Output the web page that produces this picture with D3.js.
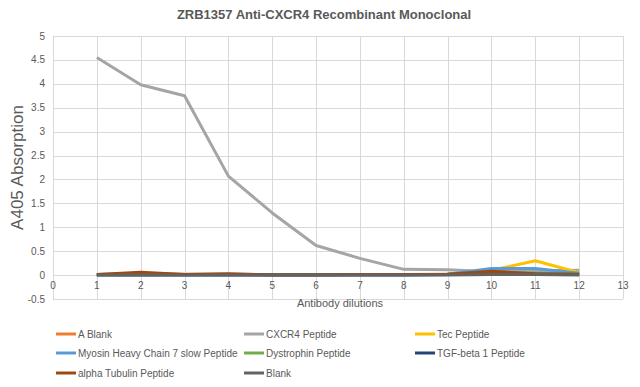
<!DOCTYPE html>
<html>
<head>
<meta charset="utf-8">
<script src="https://cdn.jsdelivr.net/npm/d3@7"></script>
<style>
  body { margin: 0; background: #fff; }
  svg text { font-family: "Liberation Sans Narrow", "Liberation Sans", Arial, sans-serif; }
</style>
</head>
<body>
<div id="chart"></div>
<script>
var dilutions = [1, 2, 3, 4, 5, 6, 7, 8, 9, 10, 11, 12];
var seriesNames = ["A Blank", "CXCR4 Peptide", "Tec Peptide", "Myosin Heavy Chain 7 slow Peptide",
  "Dystrophin Peptide", "TGF-beta 1 Peptide", "alpha Tubulin Peptide", "Blank"];
var seriesColors = ["#ed7d31", "#a5a5a5", "#ffc000", "#5b9bd5", "#70ad47", "#264478", "#9e480e", "#636363"];
var aBlank      = [0.01, 0.04, 0.02, 0.02, 0.01, 0.01, 0.01, 0.01, 0.02, 0.05, 0.04, 0.02];
var cxcr4       = [4.55, 3.98, 3.75, 2.07, 1.30, 0.62, 0.35, 0.12, 0.11, 0.07, 0.09, 0.10];
var tec         = [0.01, 0.01, 0.01, 0.01, 0.01, 0.01, 0.01, 0.01, 0.02, 0.10, 0.30, 0.05];
var myosin      = [0.01, 0.01, 0.01, 0.01, 0.01, 0.01, 0.01, 0.01, 0.02, 0.14, 0.14, 0.04];
var dystrophin  = [0.01, 0.01, 0.01, 0.01, 0.01, 0.01, 0.01, 0.01, 0.02, 0.06, 0.04, 0.02];
var tgfBeta     = [0.00, 0.00, 0.00, 0.00, 0.00, 0.00, 0.00, 0.00, 0.01, 0.03, 0.02, 0.01];
var tubulin     = [0.01, 0.06, 0.01, 0.03, 0.00, 0.00, 0.01, 0.01, 0.02, 0.08, 0.03, 0.02];
var blank       = [0.00, 0.00, 0.00, 0.00, 0.00, 0.00, 0.00, 0.00, 0.00, 0.01, 0.01, 0.00];
var seriesValues = [aBlank, cxcr4, tec, myosin, dystrophin, tgfBeta, tubulin, blank];
var xTicks = d3.range(0, 14);
var yTicks = [-0.5, 0, 0.5, 1, 1.5, 2, 2.5, 3, 3.5, 4, 4.5, 5];

(function() {
  var W = 640, H = 387;
  var margin = { top: 36, left: 53, right: 17, bottom: 88 };

  var svg = d3.select("#chart").append("svg")
    .attr("width", W).attr("height", H);

  var x = d3.scaleLinear().domain([0, 13]).range([margin.left, W - margin.right]);
  var y = d3.scaleLinear().domain([-0.5, 5]).range([H - margin.bottom, margin.top]);

  // Gridlines
  svg.append("g").selectAll("line.h")
    .data(yTicks).enter().append("line")
    .attr("x1", x(0)).attr("x2", x(13))
    .attr("y1", function(d) { return Math.round(y(d)) + 0.5; })
    .attr("y2", function(d) { return Math.round(y(d)) + 0.5; })
    .attr("stroke", "#d9d9d9").attr("stroke-width", 1);

  svg.append("g").selectAll("line.v")
    .data(xTicks).enter().append("line")
    .attr("x1", function(d) { return Math.round(x(d)) + 0.5; })
    .attr("x2", function(d) { return Math.round(x(d)) + 0.5; })
    .attr("y1", y(5)).attr("y2", y(-0.5))
    .attr("stroke", "#d9d9d9").attr("stroke-width", 1);

  // Y tick labels
  svg.append("g").selectAll("text")
    .data(yTicks).enter().append("text")
    .attr("x", x(0) - 8).attr("y", function(d) { return y(d); })
    .attr("dy", "0.35em").attr("text-anchor", "end")
    .attr("font-size", 10).attr("fill", "#595959")
    .text(function(d) { return d; });

  // X tick labels (axis crosses at 0)
  svg.append("g").selectAll("text")
    .data(xTicks).enter().append("text")
    .attr("x", function(d) { return x(d); }).attr("y", y(0) + 14)
    .attr("text-anchor", "middle")
    .attr("font-size", 10).attr("fill", "#595959")
    .text(function(d) { return d; });

  // Lines
  var line = d3.line()
    .x(function(d, i) { return x(dilutions[i]); })
    .y(function(d) { return y(d); });

  svg.append("g").selectAll("path")
    .data(seriesValues).enter().append("path")
    .attr("d", line)
    .attr("fill", "none")
    .attr("stroke", function(d, i) { return seriesColors[i]; })
    .attr("stroke-width", 3)
    .attr("stroke-linejoin", "round");

  // Titles
  svg.append("text")
    .attr("x", 324).attr("y", 19)
    .attr("text-anchor", "middle").attr("font-size", 13).attr("font-weight", "bold")
    .attr("fill", "#595959")
    .text("ZRB1357  Anti-CXCR4 Recombinant Monoclonal");

  svg.append("text")
    .attr("x", 340).attr("y", 307)
    .attr("text-anchor", "middle").attr("font-size", 11).attr("fill", "#595959")
    .text("Antibody dilutions");

  svg.append("text")
    .attr("transform", "translate(23," + y(2.25) + ") rotate(-90)")
    .attr("text-anchor", "middle").attr("font-size", 17).attr("fill", "#595959")
    .text("A405 Absorption");

  // Legend
  var colX = [56, 244, 415];
  var rowY = [334, 353, 373];
  var items = svg.append("g").selectAll("g")
    .data(seriesNames).enter().append("g")
    .attr("transform", function(d, i) {
      return "translate(" + colX[i % 3] + "," + rowY[Math.floor(i / 3)] + ")";
    });

  items.append("line")
    .attr("x1", 0).attr("x2", 20).attr("y1", 0).attr("y2", 0)
    .attr("stroke", function(d, i) { return seriesColors[i]; })
    .attr("stroke-width", 3);

  items.append("text")
    .attr("x", 22).attr("y", 0).attr("dy", "0.35em")
    .attr("font-size", 10).attr("fill", "#595959")
    .text(function(d) { return d; });
})();
</script>
</body>
</html>
